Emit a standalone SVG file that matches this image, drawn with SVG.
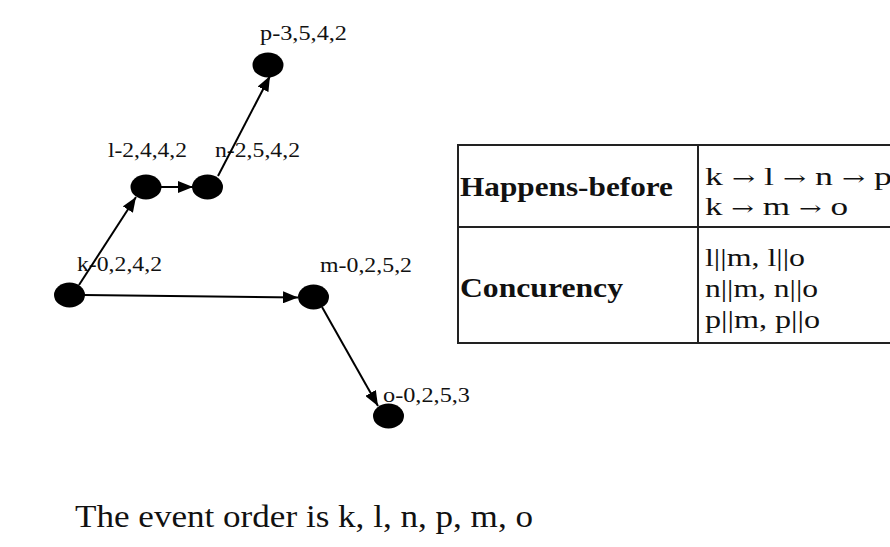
<svg xmlns="http://www.w3.org/2000/svg" width="890" height="547" viewBox="0 0 890 547">
<style>
  .lbl { font-family: "Liberation Serif", "Times New Roman", serif; font-size: 20px; fill: #111; }
  .th { font-family: "Liberation Serif", "Times New Roman", serif; font-size: 27px; font-weight: bold; fill: #111; }
  .td { font-family: "Liberation Serif", "Times New Roman", serif; font-size: 26px; fill: #111; }
  .ar { font-family: "DejaVu Serif", serif; font-size: 20px; }
  .big { font-family: "Liberation Serif", "Times New Roman", serif; font-size: 31px; fill: #111; }
  .node { fill: #000; }
  .edge { stroke: #000; stroke-width: 2; fill: none; marker-end: url(#arr); }
  .grid { stroke: #222; stroke-width: 2; fill: none; }
</style>
<defs>
  <marker id="arr" markerUnits="userSpaceOnUse" markerWidth="15" markerHeight="12" refX="15" refY="6" orient="auto">
    <path d="M0,0 L15,6 L0,12 z" fill="#000"/>
  </marker>
</defs>
<rect width="890" height="547" fill="#fff"/>

<g id="node-p">
  <ellipse class="node" cx="268" cy="65" rx="15.5" ry="12.5"/>
  <text class="lbl" x="260" y="40" textLength="87" lengthAdjust="spacingAndGlyphs">p-3,5,4,2</text>
</g>
<g id="node-l">
  <ellipse class="node" cx="146" cy="187" rx="15.5" ry="12.5"/>
  <text class="lbl" x="108" y="157" textLength="79" lengthAdjust="spacingAndGlyphs">l-2,4,4,2</text>
</g>
<g id="node-n">
  <ellipse class="node" cx="207.5" cy="187" rx="15.5" ry="12.5"/>
  <text class="lbl" x="215" y="157" textLength="85" lengthAdjust="spacingAndGlyphs">n-2,5,4,2</text>
</g>
<g id="node-k">
  <ellipse class="node" cx="69.5" cy="295" rx="15.5" ry="12.5"/>
  <text class="lbl" x="77" y="271" textLength="85" lengthAdjust="spacingAndGlyphs">k-0,2,4,2</text>
</g>
<g id="node-m">
  <ellipse class="node" cx="313.5" cy="297" rx="15.5" ry="12.5"/>
  <text class="lbl" x="320" y="272" textLength="92" lengthAdjust="spacingAndGlyphs">m-0,2,5,2</text>
</g>
<g id="node-o">
  <ellipse class="node" cx="388.5" cy="416" rx="15.5" ry="12.5"/>
  <text class="lbl" x="383" y="402" textLength="87" lengthAdjust="spacingAndGlyphs">o-0,2,5,3</text>
</g>

<g id="connectors">
  <line class="edge" x1="79" y1="285" x2="136" y2="197"/>
  <line class="edge" x1="161" y1="187" x2="193" y2="187"/>
  <line class="edge" x1="218" y1="176" x2="270" y2="76"/>
  <line class="edge" x1="84" y1="295" x2="298" y2="297.5"/>
  <line class="edge" x1="322" y1="307" x2="378" y2="406"/>
</g>

<g id="table">
  <rect class="grid" x="458" y="145" width="450" height="198"/>
  <line class="grid" x1="458" y1="227" x2="890" y2="227"/>
  <line class="grid" x1="698" y1="145" x2="698" y2="343"/>
  <text class="th" x="460" y="196" textLength="213" lengthAdjust="spacingAndGlyphs">Happens-before</text>
  <text class="th" x="460" y="297" textLength="163" lengthAdjust="spacingAndGlyphs">Concurency</text>
  <text class="td" x="705" y="185" textLength="187" lengthAdjust="spacingAndGlyphs">k <tspan class="ar">→</tspan> l <tspan class="ar">→</tspan> n <tspan class="ar">→</tspan> p</text>
  <text class="td" x="705" y="215" textLength="143" lengthAdjust="spacingAndGlyphs">k <tspan class="ar">→</tspan> m <tspan class="ar">→</tspan> o</text>
  <text class="td" x="705" y="266" textLength="100" lengthAdjust="spacingAndGlyphs">l||m, l||o</text>
  <text class="td" x="705" y="297" textLength="113" lengthAdjust="spacingAndGlyphs">n||m, n||o</text>
  <text class="td" x="705" y="328" textLength="115" lengthAdjust="spacingAndGlyphs">p||m, p||o</text>
</g>

<text class="big" x="75" y="527" textLength="458" lengthAdjust="spacingAndGlyphs">The event order is k, l, n, p, m, o</text>
</svg>
